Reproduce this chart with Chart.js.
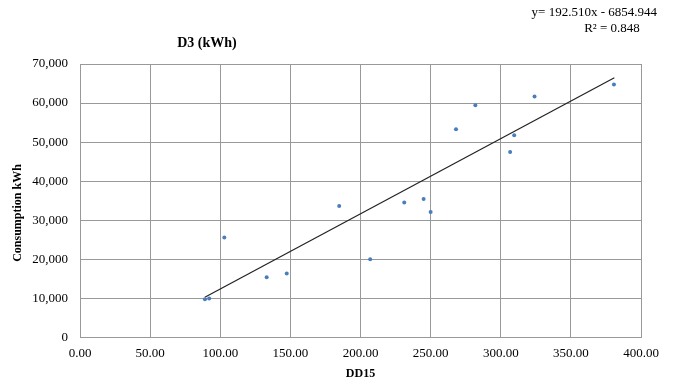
<!DOCTYPE html>
<html>
<head>
<meta charset="utf-8">
<script src="https://cdn.jsdelivr.net/npm/chart.js@4/dist/chart.umd.min.js"></script>
<style>
  html, body { margin: 0; padding: 0; background: #fff; }
  #wrap { width: 677px; height: 383px; }
</style>
</head>
<body>
<div id="wrap"><canvas id="grafico"></canvas></div>
<script>
// Dados
const dd15 = [89.1, 92.1, 102.9, 133.1, 147.4, 184.8, 206.9, 231.2, 245.0, 250.0, 268.1, 281.9, 309.6, 306.7, 324.1, 380.7];
const consumo = [9800, 9950, 25590, 15440, 16360, 33640, 20050, 34560, 35440, 32100, 53280, 59440, 51740, 47490, 61670, 64740];

// Linha de tendência (extremos)
const tendenciaX = [89, 381];
const tendenciaY = [10280, 66490];

const titulo = 'D3 (kWh)';
const tituloY = 'Consumption kWh';
const equacao = 'y= 192.510x - 6854.944';
const r2 = 'R\u00B2 = 0.848';

const serif = '"Liberation Serif", "Times New Roman", serif';

// Textos extras (título, equação e título do eixo Y)
const textosPlugin = {
  id: 'textos',
  afterDraw(chart) {
    const ctx = chart.ctx;
    ctx.save();
    ctx.fillStyle = '#000';
    ctx.textBaseline = 'middle';
    ctx.textAlign = 'center';
    ctx.font = 'bold 14px ' + serif;
    ctx.fillText(titulo, 207, 43);
    ctx.font = '13px ' + serif;
    ctx.textAlign = 'right';
    ctx.fillText(equacao, 657, 13);
    ctx.textAlign = 'center';
    ctx.fillText(r2, 612, 29);
    // título do eixo Y
    ctx.translate(18, 213);
    ctx.rotate(-Math.PI / 2);
    ctx.font = 'bold 12px ' + serif;
    ctx.fillText(tituloY, 0, 0);
    ctx.restore();
  }
};

const pontos = dd15.map((x, i) => ({ x: x, y: consumo[i] }));
const tendencia = tendenciaX.map((x, i) => ({ x: x, y: tendenciaY[i] }));

new Chart(document.getElementById('grafico'), {
  type: 'scatter',
  data: {
    datasets: [
      {
        label: 'D3',
        data: pontos,
        backgroundColor: '#4a7ebb',
        borderColor: '#4a7ebb',
        pointRadius: 2,
        pointBorderWidth: 0
      },
      {
        label: 'Tendência',
        type: 'line',
        data: tendencia,
        borderColor: '#222',
        borderWidth: 1.2,
        pointRadius: 0,
        fill: false
      }
    ]
  },
  options: {
    responsive: true,
    maintainAspectRatio: false,
    animation: false,
    layout: { padding: { top: 64, right: 36, bottom: 0, left: 0 } },
    plugins: {
      legend: { display: false },
      tooltip: { enabled: false }
    },
    scales: {
      x: {
        type: 'linear',
        min: 0,
        max: 400,
        afterFit(scale) { scale.height = 45.5; },
        ticks: {
          stepSize: 50,
          padding: 8,
          color: '#000',
          font: { family: serif, size: 13 },
          callback: v => v.toFixed(2)
        },
        grid: { color: '#999', lineWidth: 1, drawTicks: false },
        border: { color: '#999' },
        title: {
          display: true,
          text: 'DD15',
          color: '#000',
          font: { family: serif, size: 12, weight: 'bold' },
          padding: { top: 0, bottom: 2 }
        }
      },
      y: {
        min: 0,
        max: 70000,
        afterFit(scale) { scale.width = 80; },
        ticks: {
          stepSize: 10000,
          padding: 12,
          color: '#000',
          font: { family: serif, size: 13 },
          callback: v => v.toLocaleString('en-US')
        },
        grid: { color: '#999', lineWidth: 1, drawTicks: false },
        border: { color: '#999' }
      }
    }
  },
  plugins: [textosPlugin]
});
</script>
</body>
</html>
